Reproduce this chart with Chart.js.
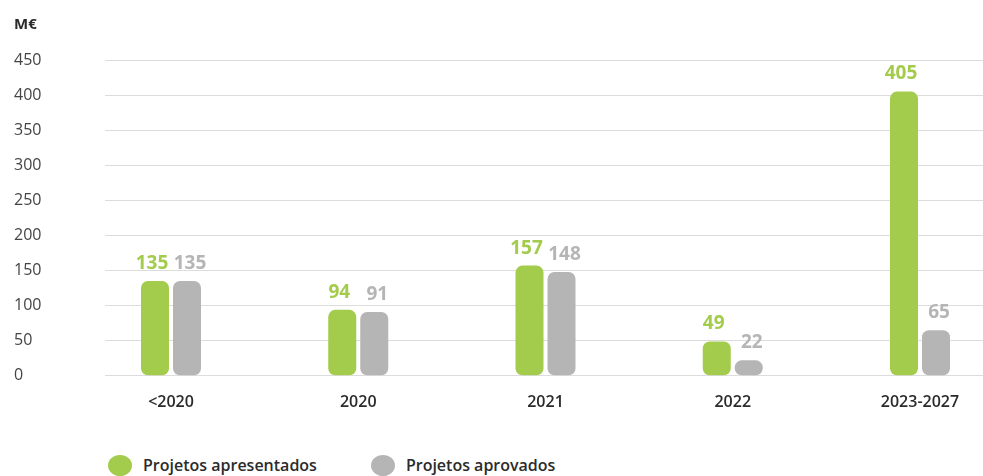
<!DOCTYPE html>
<html>
<head>
<meta charset="utf-8">
<script src="https://cdn.jsdelivr.net/npm/chart.js@4"></script>
<style>
    html, body { margin: 0; overflow: hidden; background: #fff; font-family: "Open Sans", sans-serif; }
    .wrap { position: relative; width: 983px; height: 476px; }
    .chart { position: absolute; left: 0; top: 0; width: 983px; height: 450px; }
    .legend { position: absolute; left: 108px; top: 454px; display: flex; font-size: 16px; font-weight: 600; color: #2b2b2b; }
    .legend__item { display: flex; align-items: center; margin-right: 54px; }
    .legend__dot { width: 24px; height: 21px; border-radius: 50%; margin-right: 11px; }
</style>
</head>
<body>
<div class="wrap">
    <div class="chart"><canvas id="funds"></canvas></div>
    <div class="legend" id="legend"></div>
</div>
<script>
const categories = ['<2020', '2020', '2021', '2022', '2023-2027']
const presented = [135, 94, 157, 49, 405]
const approved = [135, 91, 148, 22, 65]
const seriesNames = ['Projetos apresentados', 'Projetos aprovados']
const yTicks = [0, 50, 100, 150, 200, 250, 300, 350, 400, 450]

const green = '#a3cb4c'
const grey = '#b5b5b5'
const font = '"Open Sans", sans-serif'

// bars sit on a linear x scale so the category centres can run past the gridlines
const points = values => values.map((v, i) => ({x: i, y: v}))

// value above each bar, nudged apart so the pair does not touch
const labelShift = [-3, 3]
const valueLabels = {
    id: 'valueLabels',
    afterDatasetsDraw(chart) {
        const ctx = chart.ctx
        ctx.save()
        ctx.font = `bold 19px ${font}`
        ctx.textAlign = 'center'
        ctx.textBaseline = 'bottom'
        chart.data.datasets.forEach((ds, di) => {
            chart.getDatasetMeta(di).data.forEach((bar, i) => {
                ctx.fillStyle = ds.backgroundColor
                ctx.fillText(ds.data[i].y, bar.x + labelShift[di], bar.y - 8)
            })
        })
        ctx.restore()
    }
}

const chart = new Chart(document.getElementById('funds'), {
    type: 'bar',
    data: {
        datasets: [{
            label: seriesNames[0],
            data: points(presented),
            backgroundColor: green
        }, {
            label: seriesNames[1],
            data: points(approved),
            backgroundColor: grey
        }]
    },
    options: {
        responsive: true,
        maintainAspectRatio: false,
        animation: false,
        categoryPercentage: 0.342,
        barPercentage: 0.875,
        borderRadius: 7,
        borderSkipped: false,
        layout: { padding: { left: 14, right: 0, top: 8, bottom: 29 } },
        scales: {
            x: {
                type: 'linear',
                bounds: 'data',
                offset: false,
                min: -0.3525,
                max: 4.3365,
                afterBuildTicks(scale) { scale.ticks = categories.map((c, i) => ({value: i})) },
                afterFit(scale) { scale.paddingLeft = 0; scale.paddingRight = 0 },
                grid: { display: false },
                border: { display: false },
                ticks: {
                    autoSkip: false,
                    maxRotation: 0,
                    padding: 9,
                    color: '#2b2b2b',
                    font: { family: font, size: 16, weight: 600 },
                    callback: v => categories[v]
                }
            },
            y: {
                min: yTicks[0],
                max: yTicks[yTicks.length - 1],
                afterFit(scale) { scale.width = 91 },
                afterBuildTicks(scale) { scale.ticks = yTicks.map(v => ({value: v})) },
                grid: { color: '#dcdcdc', drawTicks: false },
                border: { display: false },
                ticks: {
                    crossAlign: 'far',
                    color: '#444',
                    font: { family: font, size: 16 }
                }
            }
        },
        plugins: {
            legend: { display: false },
            tooltip: { enabled: false },
            title: {
                display: true,
                text: 'M€',
                align: 'start',
                color: '#2b2b2b',
                font: { family: font, size: 15, weight: 'bold' },
                padding: { top: 8, bottom: 26 }
            }
        }
    },
    plugins: [valueLabels]
})

document.getElementById('legend').innerHTML = chart.data.datasets.map(ds =>
    `<div class="legend__item"><span class="legend__dot" style="background:${ds.backgroundColor}"></span>${ds.label}</div>`
).join('')
</script>
</body>
</html>
